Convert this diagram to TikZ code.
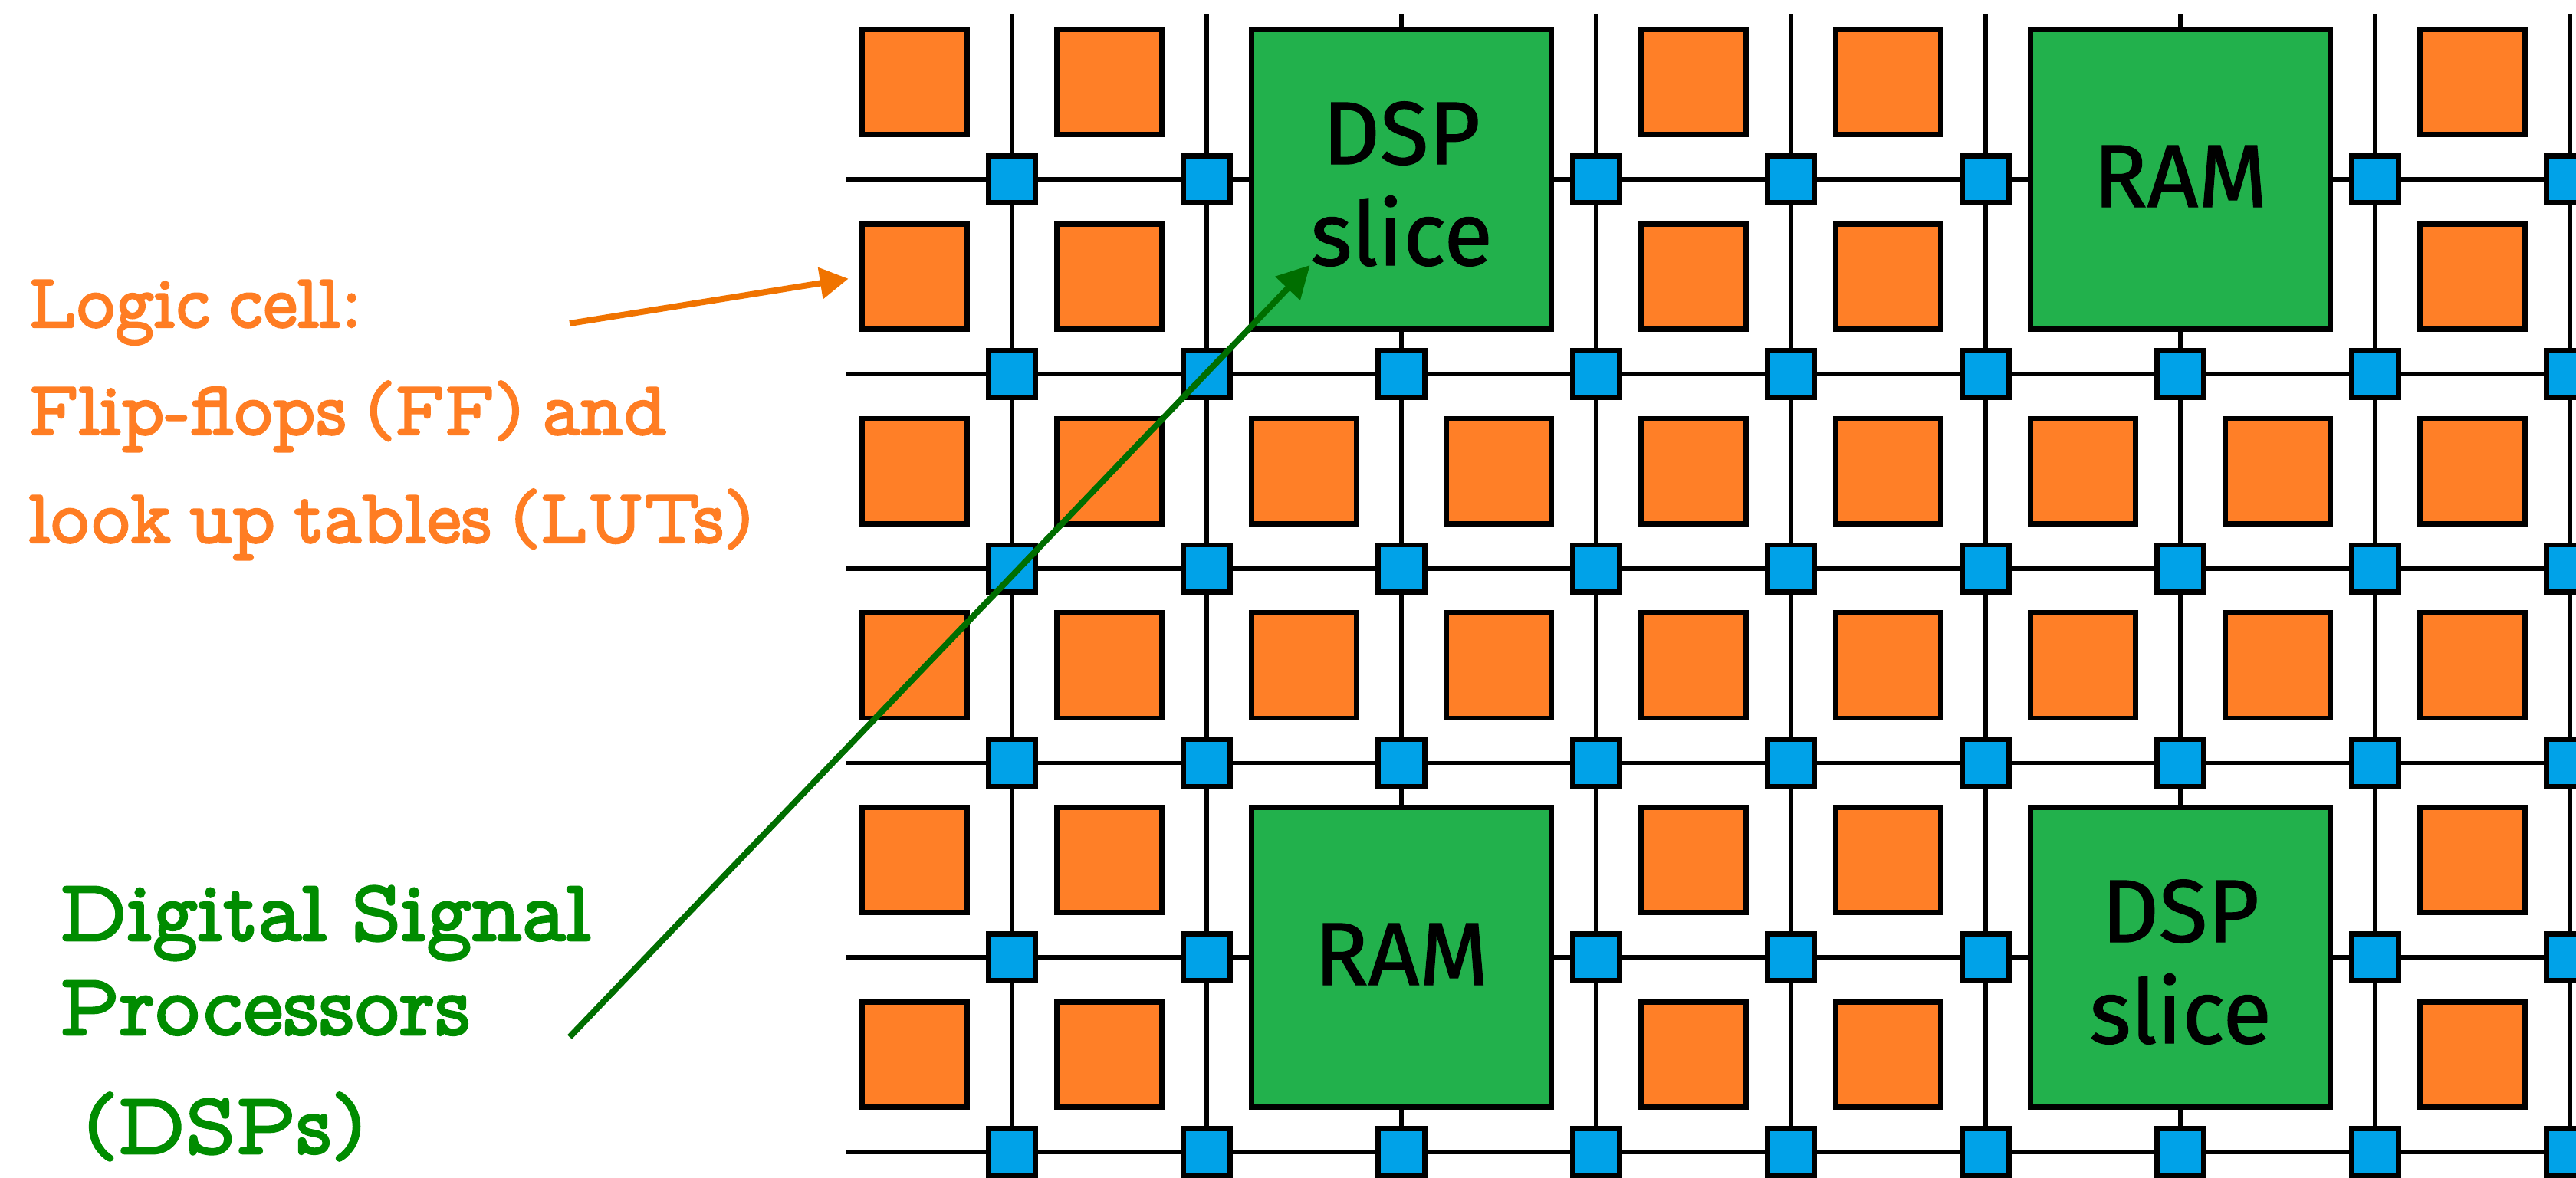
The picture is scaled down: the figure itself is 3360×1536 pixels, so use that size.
\documentclass[tikz,border=0pt]{standalone}
\usepackage{fontspec}
\usetikzlibrary{arrows.meta}
\newfontfamily\typewfont[FakeBold=2.4, FakeStretch=0.96, WordSpace=0.7]{lmmonoprop10-regular.otf}
\newfontfamily\typewwide[FakeBold=2.4, FakeStretch=0.98, WordSpace=0.8]{lmmonoprop10-regular.otf}
\newfontfamily\blockfont[FakeBold=1.2]{Fira Sans}
\definecolor{cellorange}{RGB}{255,127,39}
\definecolor{switchblue}{RGB}{0,162,232}
\definecolor{blockgreen}{RGB}{34,177,76}
\definecolor{labelorange}{RGB}{255,125,35}
\definecolor{arroworange}{RGB}{240,115,0}
\definecolor{labelgreen}{RGB}{0,140,0}
\definecolor{arrowgreen}{RGB}{0,110,0}
\tikzset{
  wire/.style={line width=0.058cm, black},
  logiccell/.style={draw=black, line width=0.068cm, fill=cellorange, minimum size=1.37cm, inner sep=0, outer sep=0},
  switchbox/.style={draw=black, line width=0.068cm, fill=switchblue, minimum size=0.61cm, inner sep=0, outer sep=0},
  hardblock/.style={draw=black, line width=0.068cm, fill=blockgreen, minimum size=3.91cm, inner sep=0, outer sep=0},
  blocktext/.style={font=\blockfont\fontsize{33}{33}\selectfont, text=black, inner sep=0, anchor=base},
  orangelabel/.style={font=\typewfont\fontsize{28.6}{28.6}\selectfont, text=labelorange, inner sep=0, anchor=base west},
  greenlabel/.style={font=\typewwide\fontsize{32.6}{32.6}\selectfont, text=labelgreen, inner sep=0, anchor=base west},
  pointer/.style={line width=0.08cm},
}
\begin{document}
\begin{tikzpicture}[x=0.01cm, y=-0.01cm]
\path[use as bounding box] (0,0) rectangle (3360,1536);
\clip (0,0) rectangle (3360,1536);

% routing channels
\foreach \i in {0,...,8}
  \draw[wire] ({1320+254*\i},18) -- ({1320+254*\i},1600);
\foreach \j in {0,...,5}
  \draw[wire] (1103,{234+253.8*\j}) -- (3400,{234+253.8*\j});

% configurable logic cells
\foreach \k in {0,...,8}{
  \foreach \m in {0,...,5}{
    \pgfmathtruncatemacro\covered{((\k==2)||(\k==3)||(\k==6)||(\k==7)) && ((\m<2)||(\m>3))}
    \ifnum\covered=0
      \node[logiccell] (cell-\k-\m) at ({1193+254*\k},{107+253.8*\m}) {};
    \fi
  }
}

% switch boxes at the channel crossings
\foreach \i in {0,...,8}{
  \foreach \j in {0,...,5}{
    \pgfmathtruncatemacro\covered{((\i==2)||(\i==6)) && ((\j==0)||(\j==4))}
    \ifnum\covered=0
      \node[switchbox] (sw-\i-\j) at ({1320+254*\i},{234+253.8*\j}) {};
    \fi
  }
}

% hard blocks
\node[hardblock] (dsp1) at (1828,234) {};
\node[hardblock] (ram1) at (2844,234) {};
\node[hardblock] (ram2) at (1828,1249) {};
\node[hardblock] (dsp2) at (2844,1249) {};

\node[blocktext] (dsp1a) at (1828,214) {DSP};
\node[blocktext] (dsp1b) at (1828,346) {slice};
\node[blocktext] (ram1t) at (2844,270) {RAM};
\node[blocktext] (ram2t) at (1828,1285) {RAM};
\node[blocktext] (dsp2a) at (2844,1229) {DSP};
\node[blocktext] (dsp2b) at (2844,1361) {slice};

% annotations
\node[orangelabel] (lc1) at (37,427) {Logic cell:};
\node[orangelabel] (lc2) at (37,567) {Flip-flops (FF) and};
\node[orangelabel] (lc3) at (37,708) {look up tables (LUTs)};

\node[greenlabel] (dp1) at (77,1227) {Digital Signal};
\node[greenlabel] (dp2) at (77,1350) {Processors};
\node[greenlabel] (dp3) at (107,1505) {(DSPs)};

\coordinate (otail) at (743,422);
\coordinate (gtail) at (743,1353);
\draw[pointer, color=arroworange, -{Triangle[length=0.37cm,width=0.40cm]}, shorten >=0.18cm]
  (otail) -- (cell-0-1.west);
\draw[pointer, color=arrowgreen, -{Triangle[length=0.42cm,width=0.43cm]}]
  (gtail) -- (dsp1b.base west);
\end{tikzpicture}
\end{document}
